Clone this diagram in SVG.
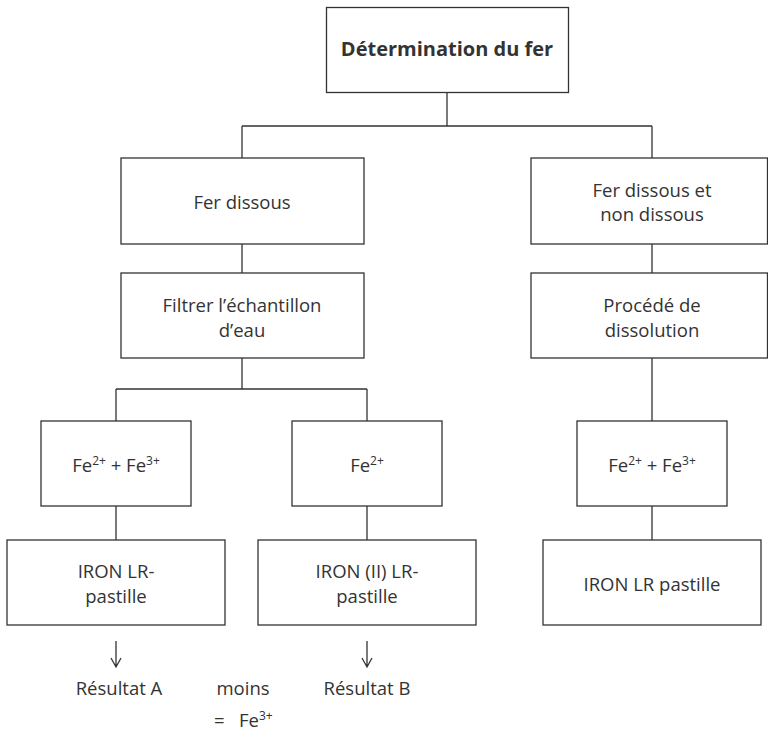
<svg xmlns="http://www.w3.org/2000/svg" width="768" height="733" viewBox="0 0 768 733">
<style>
.box{fill:#fff;stroke:#333;stroke-width:1.3}
.ln{fill:none;stroke:#333;stroke-width:1.3}
text{font-family:"Open Sans","Noto Sans",sans-serif;font-size:18.5px;fill:#333;text-anchor:middle}
.b{font-weight:bold;font-size:20px}
.sup{font-size:12px}
.l{text-anchor:start}
</style>
<rect width="768" height="733" fill="#fff"/>
<g id="connectors">
<path class="ln" d="M447,92V126M242,126H652M242,126V158M652,126V158"/>
<path class="ln" d="M242,244V273M242,358V389M116,389H367M116,389V421M367,389V421"/>
<path class="ln" d="M116,506V540M367,506V540"/>
<path class="ln" d="M652,244V273M652,358V421M652,506V540"/>
<path class="ln" d="M116,641V667M111,658L116,667L121,658"/>
<path class="ln" d="M367,641V667M362,658L367,667L372,658"/>
</g>
<g id="n-title"><rect class="box" x="326.5" y="7.5" width="242" height="85"/><text class="b" x="447" y="56">Détermination du fer</text></g>
<g id="n-fer-dissous"><rect class="box" x="121" y="158" width="243" height="86"/><text x="242" y="209">Fer dissous</text></g>
<g id="n-filtrer"><rect class="box" x="121" y="273" width="243" height="85"/><text x="242" y="312">Filtrer l’échantillon</text><text x="242" y="337">d’eau</text></g>
<g id="n-fe23-left"><rect class="box" x="41" y="421" width="150" height="85"/><text x="116" y="472">Fe<tspan class="sup" dy="-7">2+</tspan><tspan dy="7"> + Fe</tspan><tspan class="sup" dy="-7">3+</tspan></text></g>
<g id="n-fe2"><rect class="box" x="292" y="421" width="150" height="85"/><text x="367" y="472">Fe<tspan class="sup" dy="-7">2+</tspan></text></g>
<g id="n-iron-lr"><rect class="box" x="7" y="540" width="218" height="85"/><text x="116" y="578">IRON LR-</text><text x="116" y="603">pastille</text></g>
<g id="n-iron-ii"><rect class="box" x="258" y="540" width="218" height="85"/><text x="367" y="578">IRON (II) LR-</text><text x="367" y="603">pastille</text></g>
<g id="n-fer-total"><rect class="box" x="531" y="158" width="236.5" height="86"/><text x="652" y="197">Fer dissous et</text><text x="652" y="221">non dissous</text></g>
<g id="n-procede"><rect class="box" x="531" y="273" width="236.5" height="85"/><text x="652" y="312">Procédé de</text><text x="652" y="337">dissolution</text></g>
<g id="n-fe23-right"><rect class="box" x="577" y="421" width="150" height="85"/><text x="652" y="472">Fe<tspan class="sup" dy="-7">2+</tspan><tspan dy="7"> + Fe</tspan><tspan class="sup" dy="-7">3+</tspan></text></g>
<g id="n-iron-lr-right"><rect class="box" x="543" y="540" width="218" height="85"/><text x="652" y="591">IRON LR pastille</text></g>
<g id="labels">
<text x="119" y="695">Résultat A</text>
<text x="243" y="695">moins</text>
<text x="367" y="695">Résultat B</text>
<text class="l" x="214" y="727">=<tspan x="239">Fe</tspan><tspan class="sup" dy="-7">3+</tspan></text>
</g>
</svg>
